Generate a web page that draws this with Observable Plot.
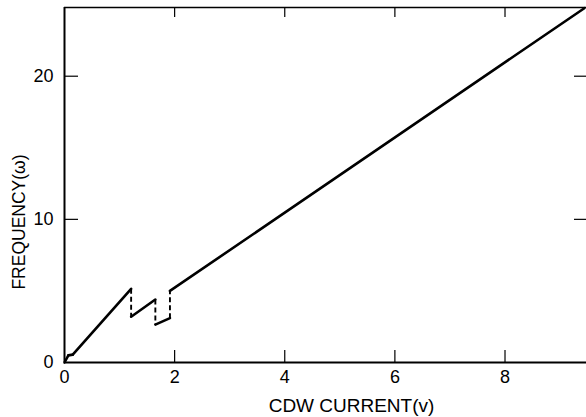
<!DOCTYPE html>
<html>
<head>
<meta charset="utf-8">
<script src="https://cdn.jsdelivr.net/npm/d3@7"></script>
<script src="https://cdn.jsdelivr.net/npm/@observablehq/plot@0.6"></script>
<style>
  html, body { margin: 0; padding: 0; background: #fff; }
  #chart svg { display: block; }
</style>
</head>
<body>
<div id="chart"></div>
<script>
// Data
const current   = [0, 0.07, 0.15, 1.21, 1.21, 1.65, 1.65, 1.915, 1.915, 9.44];
const frequency = [0, 0.5, 0.55, 5.15, 3.2, 4.4, 2.65, 3.1, 5.0, 24.75];
// style of the segment joining point i to point i+1
const segmentStyle = ["solid", "solid", "solid", "dashed", "solid", "dashed", "solid", "dashed", "solid"];

const xTicks = [0, 2, 4, 6, 8];
const xInnerTicks = [2, 4, 6, 8];
const yTicks = [0, 10, 20];
const yInnerTicks = [10, 20];
const xDomain = [0, 9.48];
const yDomain = [0, 24.8];
const xLabel = "CDW CURRENT(v)";
const yLabel = "FREQUENCY(\u03c9)";

const segments = segmentStyle.map((s, i) => ({
  x1: current[i], y1: frequency[i], x2: current[i + 1], y2: frequency[i + 1], style: s
}));

const W = 586, H = 417;
const mL = 64, mR = 0, mT = 7, mB = 55;
const plotW = W - mL - mR, plotH = H - mT - mB;
const font = "Liberation Sans, Arial, sans-serif";

const chart = Plot.plot({
  width: W,
  height: H,
  marginLeft: mL,
  marginRight: mR,
  marginTop: mT,
  marginBottom: mB,
  style: { fontFamily: font, background: "#fff", color: "#000" },
  x: { domain: xDomain },
  y: { domain: yDomain },
  marks: [
    Plot.axisX(xTicks, { tickSize: 0, tickPadding: 8, fontSize: 18, label: null }),
    Plot.axisY(yTicks, { tickSize: 0, tickPadding: 11, fontSize: 18, label: null }),
    // frame lines
    Plot.ruleY([yDomain[0]], { stroke: "#000", strokeWidth: 2 }),
    Plot.ruleY([yDomain[1]], { stroke: "#000", strokeWidth: 1.5 }),
    Plot.ruleX([xDomain[0]], { stroke: "#000", strokeWidth: 2 }),
    // inward ticks
    Plot.tickX(xInnerTicks, { x: d => d, insetTop: plotH - 12, stroke: "#000", strokeWidth: 1.2 }),
    Plot.tickX(xInnerTicks, { x: d => d, insetBottom: plotH - 10, stroke: "#000", strokeWidth: 1.2 }),
    Plot.tickY(yInnerTicks, { y: d => d, insetRight: plotW - 14, stroke: "#000", strokeWidth: 1.2 }),
    Plot.tickY(yInnerTicks, { y: d => d, insetLeft: plotW - 12, stroke: "#000", strokeWidth: 1.2 }),
    // curve
    Plot.link(segments.filter(d => d.style === "solid"), {
      x1: "x1", y1: "y1", x2: "x2", y2: "y2",
      stroke: "#000", strokeWidth: 2.6, strokeLinecap: "round", strokeLinejoin: "round"
    }),
    Plot.link(segments.filter(d => d.style === "dashed"), {
      x1: "x1", y1: "y1", x2: "x2", y2: "y2",
      stroke: "#000", strokeWidth: 1.9, strokeDasharray: "5,3"
    }),
    // axis titles
    Plot.text([xLabel], {
      text: d => d, frameAnchor: "bottom", lineAnchor: "middle",
      dx: 26, dy: 43, fontSize: 19, fill: "#000"
    }),
    Plot.text([yLabel], {
      text: d => d, frameAnchor: "left", textAnchor: "middle", lineAnchor: "middle", rotate: -90,
      dx: -45, dy: 37, fontSize: 17.5, fill: "#000"
    })
  ]
});

document.getElementById("chart").appendChild(chart);
</script>
</body>
</html>
